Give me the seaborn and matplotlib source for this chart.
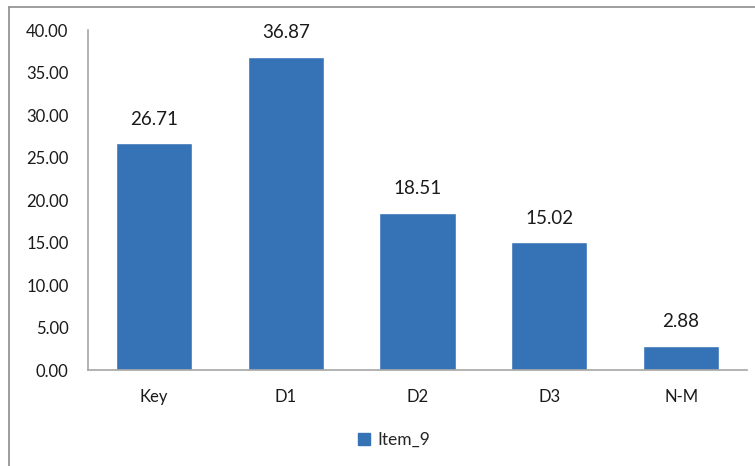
import matplotlib
matplotlib.use("Agg")
import matplotlib.pyplot as plt
import seaborn as sns
import pandas as pd
from matplotlib.patches import Rectangle
from matplotlib.lines import Line2D

categories = ["Key", "D1", "D2", "D3", "N-M"]
values = [26.71, 36.87, 18.51, 15.02, 2.88]
series_name = "Item_9"
yticks = [0, 5, 10, 15, 20, 25, 30, 35, 40]

sns.set_theme(style="white")
plt.rcParams["font.family"] = ["Lato", "DejaVu Sans"]

bar_color = "#3672b6"
axis_gray = "#a6a6a6"
text_color = "#1a1a1a"

df = pd.DataFrame({"category": categories, "value": values, "series": series_name})

fig = plt.figure(figsize=(7.55, 4.66), dpi=100)
ax = fig.add_axes([0.1166, 0.206, 0.8728, 0.7296])

sns.barplot(data=df, x="category", y="value", hue="series", palette=[bar_color],
            width=0.577, saturation=1, ax=ax, legend=False)

ax.set_ylim(0, 40)
ax.set_xlim(-0.5, len(categories) - 0.5)
ax.set_yticks(yticks)
ax.set_yticklabels([f"{t:.2f}" for t in yticks], fontsize=12, color=text_color)
ax.tick_params(axis="y", length=0, pad=14)
ax.tick_params(axis="x", length=0, pad=14, labelsize=12, labelcolor=text_color)
ax.set_xlabel("")
ax.set_ylabel("")

for side in ["top", "right"]:
    ax.spines[side].set_visible(False)
for side in ["left", "bottom"]:
    ax.spines[side].set_color(axis_gray)
    ax.spines[side].set_linewidth(1.2)

for container in ax.containers:
    ax.bar_label(container, labels=[f"{v:.2f}" for v in values], padding=11,
                 fontsize=13.5, color=text_color)

# legend below the plot
fig.legend(handles=[Rectangle((0, 0), 1, 1, color=bar_color)], labels=[series_name],
           loc="center", bbox_to_anchor=(0.522, 0.056), frameon=False, fontsize=12.5,
           handlelength=0.7, handleheight=0.7, handletextpad=0.4)

# outer chart frame (top and left edges)
frame_kw = dict(transform=fig.transFigure, color="#8c8c8c", linewidth=1.2)
fig.lines.append(Line2D([9 / 755, 1], [1 - 7 / 466, 1 - 7 / 466], **frame_kw))
fig.lines.append(Line2D([9 / 755, 9 / 755], [0, 1 - 7 / 466], **frame_kw))

fig.savefig("out.png", dpi=100)
